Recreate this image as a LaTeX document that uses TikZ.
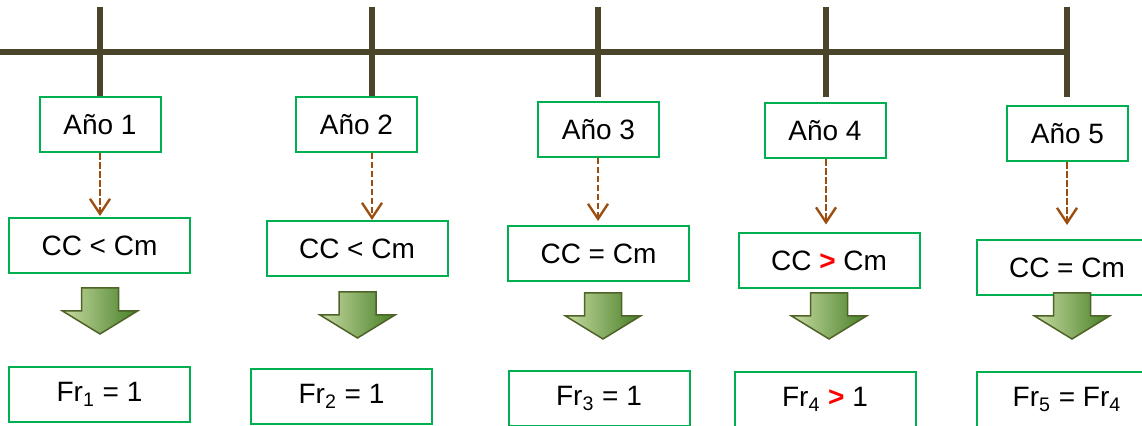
\documentclass[tikz,border=0pt]{standalone}
\usepackage{fontspec}
\setmainfont{Liberation Sans}
\usepackage{tikz}
\usetikzlibrary{arrows.meta}
\definecolor{boxgreen}{RGB}{0,176,80}
\definecolor{linebrown}{RGB}{74,69,42}
\definecolor{linkbrown}{RGB}{156,78,16}
\definecolor{arrowlight}{RGB}{200,220,162}
\definecolor{arrowdark}{RGB}{70,126,38}
\definecolor{arrowedge}{RGB}{79,98,40}
\tikzset{
    normal/.style={draw=boxgreen, line width=1pt, fill=white},
    box/.style={style=normal, inner sep=0pt, font=\fontsize{14}{16}\selectfont},
    yr/.style={style=box, minimum width=60.5pt, minimum height=27.5pt}, % year boxes
    cc/.style={style=box, minimum width=90.5pt, minimum height=27.5pt}, % condition and result boxes
    timeline/.style={draw=linebrown, line width=3pt},
    link/.style={draw=linkbrown, line width=1.1pt, dash pattern=on 3.25pt off 1.25pt, -{Straight Barb[length=7.5pt, width=10pt, line width=1.2pt]}},
    down/.pic={
        \shade[left color=arrowlight, right color=arrowdark, draw=arrowedge, line width=0.75pt]
            (-18.5,0) -- (18.5,0) -- (18.5,23) -- (37.5,23) -- (0,46) -- (-37.5,23) -- (-18.5,23) -- cycle;
    }
}
\newcommand{\redgt}{\textcolor{red}{\textbf{>}}}

\begin{document}
\begin{tikzpicture}[x=0.5pt, y=-0.5pt]
        \clip (0,0) rectangle (1142,426);

        % time line
        \foreach \i/\x in {1/100, 2/372, 3/598, 4/826, 5/1067}
            \coordinate (T\i) at (\x,52);
        \draw[timeline] (0,52) -- (T5);
        \foreach \i in {1,...,5}
            \draw[timeline] (T\i) ++(0,-45) -- ++(0,90);

        \node[yr] (Y1) at (100,125) {Año 1};
        \node[yr] (Y2) at (356.5,124.5) {Año 2};
        \node[yr] (Y3) at (598.5,129.5) {Año 3};
        \node[yr] (Y4) at (825,131) {Año 4};
        \node[yr] (Y5) at (1067.5,134) {Año 5};

        \node[cc] (C1) at (99.5,245.5) {CC < Cm};
        \node[cc] (C2) at (357,248.5) {CC < Cm};
        \node[cc] (C3) at (598.5,253.5) {CC = Cm};
        \node[cc] (C4) at (829,261) {CC \redgt{} Cm};
        \node[cc] (C5) at (1067,267.5) {CC = Cm};

        \node[cc] (F1) at (99.5,394.5) {Fr\textsubscript{1} = 1};
        \node[cc] (F2) at (341.5,396.5) {Fr\textsubscript{2} = 1};
        \node[cc] (F3) at (599,398.5) {Fr\textsubscript{3} = 1};
        \node[cc] (F4) at (825,399.5) {Fr\textsubscript{4} \redgt{} 1};
        \node[cc] (F5) at (1067,399.5) {Fr\textsubscript{5} = Fr\textsubscript{4}};

        \foreach \i/\g in {1/1, 2/0, 3/4, 4/8, 5/14}
            \draw[link, shorten >=\g*0.5pt] (Y\i.south -| T\i) -- (C\i.north -| T\i);

        \pic at (100,288) {down};
        \pic at (357.5,292) {down};
        \pic at (603,293) {down};
        \pic at (829,293) {down};
        \pic at (1072,293) {down};
\end{tikzpicture}
\end{document}
